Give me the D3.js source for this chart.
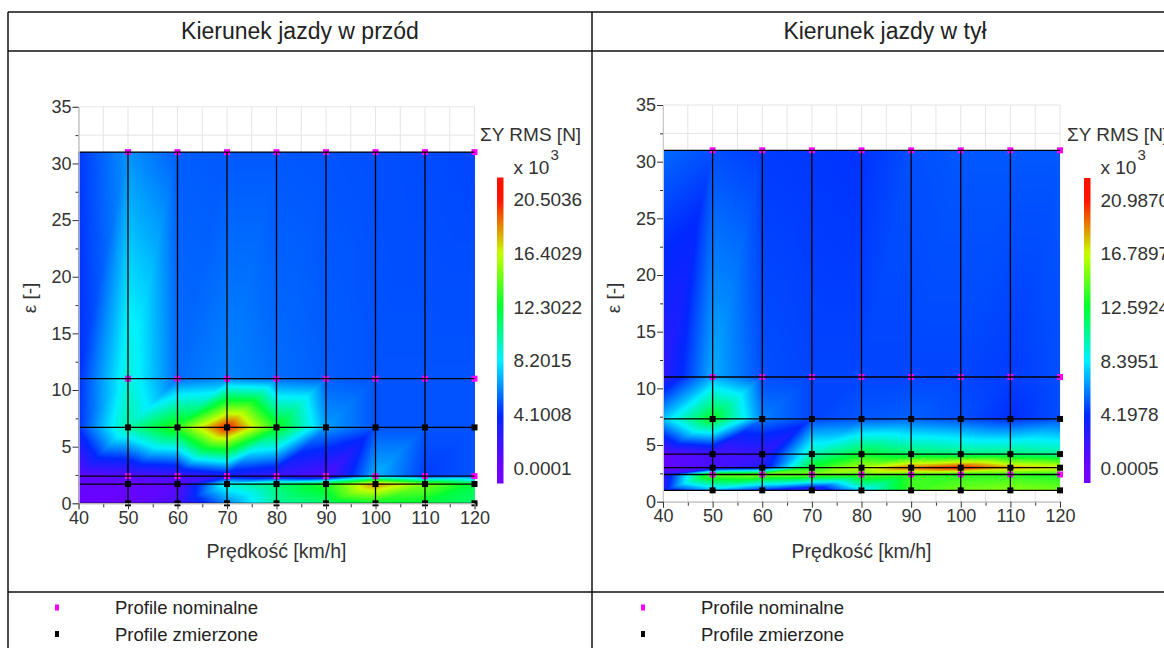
<!DOCTYPE html>
<html>
<head>
<meta charset="utf-8">
<script src="https://cdn.jsdelivr.net/npm/d3@7"></script>
<style>
  html, body { margin: 0; padding: 0; background: #fff; }
  svg { display: block; font-family: Arial, "Liberation Sans", sans-serif; }
</style>
</head>
<body>
<svg id="chart" width="1164" height="648"></svg>
<script>
// Speed grid of the ΣY RMS surfaces [km/h]
const speeds = [40, 50, 60, 70, 80, 90, 100, 110, 120];
// Speeds at which the track profiles were evaluated [km/h]
const profileSpeeds = [50, 60, 70, 80, 90, 100, 110, 120];

// Forward direction: ε levels (bottom to top), profile type and ΣY RMS [x 10^3 N]
const frontEps = [0, 1.7, 2.4, 6.7, 11, 31];
const frontKind = ["measured", "measured", "nominal", "measured", "nominal", "nominal"];
const frontRms = [
  [0.3, 0.3, 1.5, 6.0, 10.0, 11.0, 12.5, 12.0, 11.0],
  [0.4, 0.4, 0.8, 9.0, 11.0, 13.0, 18.5, 15.0, 12.0],
  [0.5, 1.0, 1.5, 3.0, 2.0, 1.0, 7.0, 4.5, 5.0],
  [4.3, 10.0, 13.5, 20.5, 13.0, 6.5, 5.0, 5.0, 5.0],
  [4.2, 9.0, 5.5, 6.0, 5.5, 5.2, 5.0, 5.0, 5.0],
  [4.4, 6.3, 5.2, 5.1, 5.1, 5.0, 4.9, 4.8, 4.7]
];
const frontTicks = [0.0001, 4.1008, 8.2015, 12.3022, 16.4029, 20.5036];

// Reverse direction
const rearEps = [1.0, 2.4, 3.0, 4.2, 7.3, 11, 31];
const rearKind = ["measured", "nominal", "measured", "measured", "measured", "nominal", "nominal"];
const rearRms = [
  [3.0, 7.0, 4.0, 1.5, 8.0, 14.0, 15.0, 15.5, 15.0],
  [2.0, 15.0, 15.5, 15.0, 14.5, 14.0, 13.5, 13.5, 13.0],
  [0.5, 1.5, 3.0, 13.0, 16.5, 19.5, 21.0, 18.5, 17.5],
  [0.5, 1.5, 2.0, 10.0, 12.5, 11.5, 11.0, 11.0, 10.5],
  [7.5, 13.0, 6.0, 4.8, 5.2, 5.4, 5.0, 4.3, 5.0],
  [2.5, 7.0, 5.0, 4.8, 4.8, 4.8, 4.8, 4.6, 5.0],
  [5.6, 5.0, 4.6, 4.5, 4.4, 5.0, 5.2, 5.2, 5.2]
];
const rearTicks = [0.0005, 4.1978, 8.3951, 12.5924, 16.7897, 20.9870];

const panelTitles = ["Kierunek jazdy w przód", "Kierunek jazdy w tył"];
const legendLabels = ["Profile nominalne", "Profile zmierzone"];
const xTicks = [40, 50, 60, 70, 80, 90, 100, 110, 120];
const yTicks = [0, 5, 10, 15, 20, 25, 30, 35];
const xLabel = "Prędkość [km/h]";
const yLabel = "ε [-]";
const barTitle = "ΣY RMS [N]";

// rainbow colour ramp, one colour per colour-bar tick
const rampColors = ["#7000ff", "#0028ff", "#00f0ff", "#00ff30", "#c8ff00", "#ff1000"];
const kindColor = { nominal: "#ff00ff", measured: "#000000" };

const svg = d3.select("#chart");
svg.append("rect").attr("width", 1164).attr("height", 648).attr("fill", "#fff");
const defs = svg.append("defs");

const panels = [
  { title: panelTitles[0], eps: frontEps, kind: frontKind, rms: frontRms, ticks: frontTicks,
    cx: 300, plot: { x0: 78.5, x1: 474.5, y0: 503.3, y1: 106.8 },
    bar: { x: 497, w: 6.5, top: 177.5, bottom: 483.5, labTop: 199.5, labBot: 468.3 },
    legendX: 57 },
  { title: panelTitles[1], eps: rearEps, kind: rearKind, rms: rearRms, ticks: rearTicks,
    cx: 885, plot: { x0: 663, x1: 1060, y0: 501.7, y1: 105 },
    bar: { x: 1084, w: 6.5, top: 178, bottom: 483, labTop: 200, labBot: 468.3 },
    legendX: 643 }
];

// piecewise-linear surface on a triangulated grid, rasterised into an image
function surfaceImage(xs, ys, vals, x, y, color) {
  const left = Math.floor(x(xs[0])), right = Math.ceil(x(xs[xs.length - 1]));
  const top = Math.floor(y(ys[ys.length - 1])), bottom = Math.ceil(y(ys[0]));
  const W = right - left, H = bottom - top;
  const canvas = document.createElement("canvas");
  canvas.width = W; canvas.height = H;
  const ctx = canvas.getContext("2d");
  const img = ctx.createImageData(W, H);
  const dom = color.domain();
  const d0 = dom[0], d1 = dom[dom.length - 1];
  const lut = d3.range(1024).map(k => d3.rgb(color(d0 + (d1 - d0) * k / 1023)));
  const xMin = xs[0], xMax = xs[xs.length - 1], yMin = ys[0], yMax = ys[ys.length - 1];
  for (let py = 0; py < H; py++) {
    const Y = Math.max(yMin, Math.min(yMax, y.invert(top + py + 0.5)));
    const j = Math.min(ys.length - 2, Math.max(0, d3.bisectRight(ys, Y) - 1));
    const w = (Y - ys[j]) / (ys[j + 1] - ys[j]);
    for (let px = 0; px < W; px++) {
      const X = Math.max(xMin, Math.min(xMax, x.invert(left + px + 0.5)));
      const i = Math.min(xs.length - 2, Math.max(0, d3.bisectRight(xs, X) - 1));
      const u = (X - xs[i]) / (xs[i + 1] - xs[i]);
      const v00 = vals[j][i], v10 = vals[j][i + 1], v01 = vals[j + 1][i], v11 = vals[j + 1][i + 1];
      const v = u >= w ? v00 + u * (v10 - v00) + w * (v11 - v10)
                       : v00 + w * (v01 - v00) + u * (v11 - v01);
      let k = Math.round((v - d0) / (d1 - d0) * 1023);
      k = Math.max(0, Math.min(1023, k));
      const c = lut[k], o = (py * W + px) * 4;
      img.data[o] = c.r; img.data[o + 1] = c.g; img.data[o + 2] = c.b; img.data[o + 3] = 255;
    }
  }
  ctx.putImageData(img, 0, 0);
  return { href: canvas.toDataURL(), left, top, W, H };
}

panels.forEach((p, pi) => {
  const g = svg.append("g");
  const x = d3.scaleLinear().domain([40, 120]).range([p.plot.x0, p.plot.x1]);
  const y = d3.scaleLinear().domain([0, 35]).range([p.plot.y0, p.plot.y1]);
  const color = d3.scaleLinear().domain(p.ticks).range(rampColors).clamp(true);

  // panel title
  g.append("text").attr("x", p.cx).attr("y", 39).attr("text-anchor", "middle")
    .attr("font-size", 23).attr("fill", "#222").text(p.title);

  // light background grid
  const grid = g.append("g").attr("stroke", "#e4e4e4").attr("stroke-width", 1);
  grid.selectAll("line.v").data(d3.range(40, 121, 5)).join("line")
    .attr("x1", d => x(d)).attr("x2", d => x(d)).attr("y1", y(0)).attr("y2", y(35));
  grid.selectAll("line.h").data(d3.range(0, 35.01, 2.5)).join("line")
    .attr("x1", x(40)).attr("x2", x(120)).attr("y1", d => y(d)).attr("y2", d => y(d));

  // interpolated ΣY RMS surface
  const surf = surfaceImage(speeds, p.eps, p.rms, x, y, color);
  g.append("image").attr("href", surf.href)
    .attr("x", surf.left).attr("y", surf.top).attr("width", surf.W).attr("height", surf.H);

  // profile markers
  p.eps.forEach((e, j) => {
    g.append("g").selectAll("rect").data(profileSpeeds).join("rect")
      .attr("x", d => x(d) - 3).attr("y", y(e) - 3).attr("width", 6).attr("height", 6)
      .attr("fill", kindColor[p.kind[j]]);
  });

  // profile lines
  const lines = g.append("g").attr("stroke", "#000").attr("stroke-width", 1.3);
  lines.selectAll("line.h").data(p.eps).join("line")
    .attr("x1", x(40)).attr("x2", x(120)).attr("y1", d => y(d)).attr("y2", d => y(d));
  lines.selectAll("line.v").data(profileSpeeds.filter(s => s < 120)).join("line")
    .attr("x1", d => x(d)).attr("x2", d => x(d))
    .attr("y1", y(p.eps[0])).attr("y2", y(p.eps[p.eps.length - 1]));

  // axes
  const styleAxis = sel => {
    sel.select(".domain").attr("stroke", "#c8c8c8");
    sel.selectAll(".tick line").attr("stroke", "#333");
    sel.selectAll("text").attr("fill", "#333").attr("font-size", 18)
      .attr("font-family", "Arial, 'Liberation Sans', sans-serif");
  };
  g.append("g").attr("transform", `translate(${x(40)},0)`)
    .call(d3.axisLeft(y).tickValues(d3.range(2.5, 35, 5)).tickSize(3).tickFormat(""))
    .call(styleAxis);
  g.append("g").attr("transform", `translate(${x(40)},0)`)
    .call(d3.axisLeft(y).tickValues(yTicks).tickSize(6).tickPadding(1).tickFormat(d3.format("d")))
    .call(styleAxis);
  g.append("g").attr("transform", `translate(0,${y(0)})`)
    .call(d3.axisBottom(x).tickValues(d3.range(45, 120, 10)).tickSize(4).tickFormat(""))
    .call(styleAxis);
  g.append("g").attr("transform", `translate(0,${y(0)})`)
    .call(d3.axisBottom(x).tickValues(xTicks).tickSize(6).tickPadding(2).tickFormat(d3.format("d")))
    .call(styleAxis);

  // axis titles
  g.append("text").attr("x", (x(40) + x(120)) / 2).attr("y", 558).attr("text-anchor", "middle")
    .attr("font-size", 19.5).attr("fill", "#333").text(xLabel);
  g.append("text").attr("transform", `translate(${x(40) - 43},298) rotate(-90)`)
    .attr("text-anchor", "middle").attr("font-size", 19).attr("fill", "#333").text(yLabel);

  // colour bar
  const barY = d3.scaleLinear().domain([p.ticks[0], p.ticks[p.ticks.length - 1]])
    .range([p.bar.labBot, p.bar.labTop]);
  const gradId = "ramp" + pi;
  const grad = defs.append("linearGradient").attr("id", gradId)
    .attr("x1", 0).attr("x2", 0).attr("y1", 0).attr("y2", 1);
  d3.range(0, 1.0001, 0.02).forEach(k => {
    const v = barY.invert(p.bar.top + k * (p.bar.bottom - p.bar.top));
    grad.append("stop").attr("offset", k).attr("stop-color", color(v));
  });
  g.append("rect").attr("x", p.bar.x).attr("y", p.bar.top).attr("width", p.bar.w)
    .attr("height", p.bar.bottom - p.bar.top).attr("fill", `url(#${gradId})`);
  g.append("g").selectAll("text").data(p.ticks).join("text")
    .attr("x", p.bar.x + 16.5).attr("y", d => barY(d)).attr("dy", "0.35em")
    .attr("font-size", 19).attr("fill", "#333").text(d3.format(".4f"));
  g.append("text").attr("x", p.bar.x - 17).attr("y", 141).attr("font-size", 19)
    .attr("fill", "#333").text(barTitle);
  const mult = g.append("text").attr("x", p.bar.x + 16.5).attr("y", 174)
    .attr("font-size", 19).attr("fill", "#333");
  mult.append("tspan").text("x 10");
  mult.append("tspan").attr("dy", -14).attr("dx", 1).attr("font-size", 15).text("3");

  // legend
  const lg = g.append("g");
  ["nominal", "measured"].forEach((k, li) => {
    const ly = 608 + li * 26.5;
    lg.append("rect").attr("x", p.legendX - 2).attr("y", ly - 3.5).attr("width", 4).attr("height", 6)
      .attr("fill", kindColor[k]);
    lg.append("text").attr("x", p.legendX + 58).attr("y", ly).attr("dy", "0.35em")
      .attr("font-size", 18.5).attr("fill", "#222").text(legendLabels[li]);
  });
});

// table frame
const frame = svg.append("g").attr("stroke", "#111").attr("stroke-width", 1.5);
[[8, 12, 1164, 12], [8, 51, 1164, 51], [8, 592, 1164, 592], [8, 12, 8, 648], [592, 12, 592, 648]]
  .forEach(([x1, y1, x2, y2]) => frame.append("line")
    .attr("x1", x1).attr("y1", y1).attr("x2", x2).attr("y2", y2));
</script>
</body>
</html>
